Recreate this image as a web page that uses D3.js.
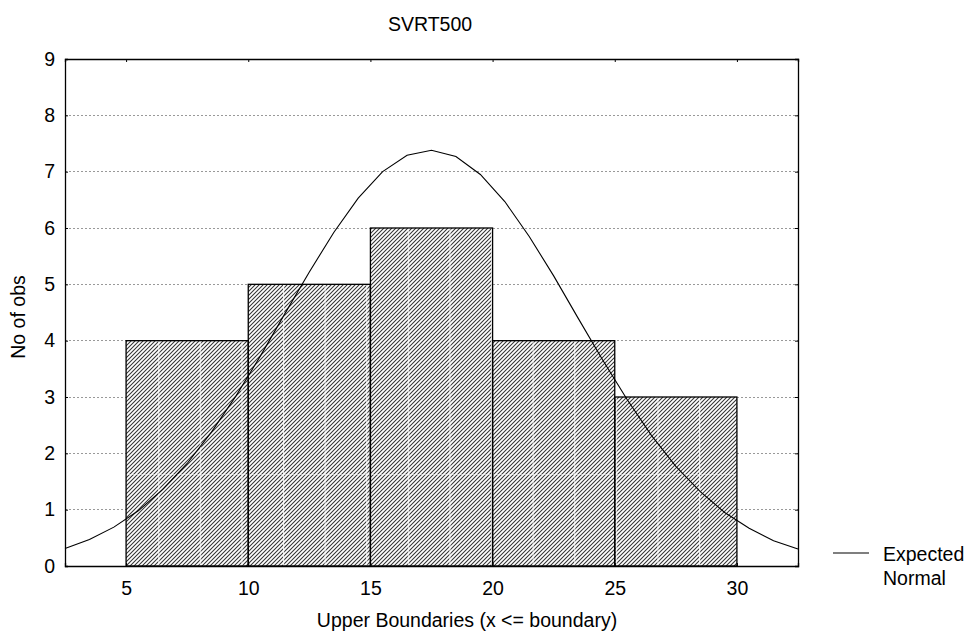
<!DOCTYPE html>
<html>
<head>
<meta charset="utf-8">
<script src="https://cdn.jsdelivr.net/npm/d3@7"></script>
<style>
  body { margin: 0; background: #fff; }
  text { font-family: "Liberation Sans", Arial, sans-serif; fill: #000; }
</style>
</head>
<body>
<div id="chart"></div>
<script>
// histogram bins (lower / upper boundary) and counts
const binLower = [5, 10, 15, 20, 25];
const binUpper = [10, 15, 20, 25, 30];
const counts = [4, 5, 6, 4, 3];

// expected normal curve
const normalX = [2.5, 3.5, 4.5, 5.5, 6.5, 7.5, 8.5, 9.5, 10.5, 11.5, 12.5, 13.5, 14.5, 15.5, 16.5,
                 17.5, 18.5, 19.5, 20.5, 21.5, 22.5, 23.5, 24.5, 25.5, 26.5, 27.5, 28.5, 29.5, 30.5, 31.5, 32.5];
const normalY = [0.31, 0.47, 0.69, 0.98, 1.36, 1.82, 2.38, 3.02, 3.73, 4.48, 5.22, 5.92, 6.53, 7.00, 7.29,
                 7.38, 7.27, 6.95, 6.47, 5.85, 5.15, 4.40, 3.66, 2.96, 2.32, 1.77, 1.32, 0.95, 0.67, 0.45, 0.30];

const xTicks = [5, 10, 15, 20, 25, 30];
const yTicks = [0, 1, 2, 3, 4, 5, 6, 7, 8, 9];

// set the dimensions and margins of the graph
let margin = {top: 59, right: 168, bottom: 69, left: 65},
    width = 966 - margin.left - margin.right,
    height = 635 - margin.top - margin.bottom;

let x = d3.scaleLinear().domain([2.5, 32.5]).range([0, width]);
let y = d3.scaleLinear().domain([0, 9]).range([height, 0]);

let root = d3.select("#chart").append("svg")
    .attr("width", 966)
    .attr("height", 635);

// hatch pattern for the bars
let defs = root.append("defs");
let hatch = defs.append("pattern")
    .attr("id", "hatch")
    .attr("patternUnits", "userSpaceOnUse")
    .attr("width", 4).attr("height", 4);
hatch.append("rect").attr("width", 4).attr("height", 4).attr("fill", "#fff");
hatch.append("path")
    .attr("d", "M-1,1 l2,-2 M0,4 l4,-4 M3,5 l2,-2")
    .attr("stroke", "#333")
    .attr("stroke-width", 1.05);

// faint white seams that show in the original fill
let seams = defs.append("pattern")
    .attr("id", "seams")
    .attr("patternUnits", "userSpaceOnUse")
    .attr("x", 10).attr("y", 46)
    .attr("width", 41.6).attr("height", 123);
seams.append("rect").attr("x", 0).attr("y", 0).attr("width", 1.2).attr("height", 123).attr("fill", "#fff").attr("opacity", 0.8);
seams.append("rect").attr("x", 0).attr("y", 0).attr("width", 41.6).attr("height", 1).attr("fill", "#fff").attr("opacity", 0.5);

let svg = root.append("g")
    .attr("transform", "translate(" + margin.left + "," + margin.top + ")");

// dotted gridlines
svg.selectAll(".grid")
    .data(yTicks.filter(d => d > 0 && d < 9))
  .enter().append("line")
    .attr("x1", 0).attr("x2", width)
    .attr("y1", d => y(d)).attr("y2", d => y(d))
    .attr("stroke", "#999")
    .attr("stroke-dasharray", "1.5,2.5")
    .attr("shape-rendering", "crispEdges");

// bars
let bins = counts.map((c, i) => ({lo: binLower[i], hi: binUpper[i], n: c}));
svg.selectAll(".bar")
    .data(bins)
  .enter().append("rect")
    .attr("class", "bar")
    .attr("x", d => x(d.lo))
    .attr("y", d => y(d.n))
    .attr("width", d => x(d.hi) - x(d.lo))
    .attr("height", d => height - y(d.n))
    .attr("fill", "url(#hatch)");
svg.selectAll(".seam")
    .data(bins)
  .enter().append("rect")
    .attr("class", "seam")
    .attr("x", d => x(d.lo))
    .attr("y", d => y(d.n))
    .attr("width", d => x(d.hi) - x(d.lo))
    .attr("height", d => height - y(d.n))
    .attr("fill", "url(#seams)");
svg.selectAll(".barEdge")
    .data(bins)
  .enter().append("rect")
    .attr("class", "barEdge")
    .attr("x", d => x(d.lo))
    .attr("y", d => y(d.n))
    .attr("width", d => x(d.hi) - x(d.lo))
    .attr("height", d => height - y(d.n))
    .attr("fill", "none")
    .attr("stroke", "#000")
    .attr("stroke-width", 1.3);

// expected normal curve
let line = d3.line()
    .x((d, i) => x(normalX[i]))
    .y(d => y(d));
svg.append("path")
    .datum(normalY)
    .attr("d", line)
    .attr("fill", "none")
    .attr("stroke", "#000")
    .attr("stroke-width", 1.1);

// axes (ticks point inward)
let axes = [
  svg.append("g").attr("transform", "translate(0," + height + ")")
     .call(d3.axisBottom(x).tickValues(xTicks).tickSize(-3).tickPadding(15)),
  svg.append("g")
     .call(d3.axisLeft(y).tickValues(yTicks).tickSize(-3).tickPadding(10)),
  svg.append("g")
     .call(d3.axisTop(x).tickValues(xTicks).tickSize(-3).tickFormat("")),
  svg.append("g").attr("transform", "translate(" + width + ",0)")
     .call(d3.axisRight(y).tickValues(yTicks).tickSize(-3).tickFormat(""))
];
axes.forEach(a => {
  a.selectAll("text").style("font-size", "19.5px").style("font-family", "Liberation Sans, Arial, sans-serif");
  a.selectAll(".domain").attr("stroke", "#000").attr("stroke-width", 1.3);
  a.selectAll(".tick line").attr("stroke", "#000");
});

// title and axis labels
root.append("text")
    .attr("x", 430).attr("y", 31)
    .attr("text-anchor", "middle")
    .style("font-size", "19.5px")
    .text("SVRT500");
root.append("text")
    .attr("x", 467).attr("y", 627)
    .attr("text-anchor", "middle")
    .style("font-size", "19.5px")
    .text("Upper Boundaries (x <= boundary)");
root.append("text")
    .attr("transform", "translate(25,317) rotate(-90)")
    .attr("text-anchor", "middle")
    .style("font-size", "19.5px")
    .text("No of obs");

// legend
root.append("line")
    .attr("x1", 833).attr("x2", 869)
    .attr("y1", 553).attr("y2", 553)
    .attr("stroke", "#000").attr("stroke-width", 1.1);
root.append("text").attr("x", 883).attr("y", 561).style("font-size", "19.5px").text("Expected");
root.append("text").attr("x", 883).attr("y", 585).style("font-size", "19.5px").text("Normal");
</script>
</body>
</html>
